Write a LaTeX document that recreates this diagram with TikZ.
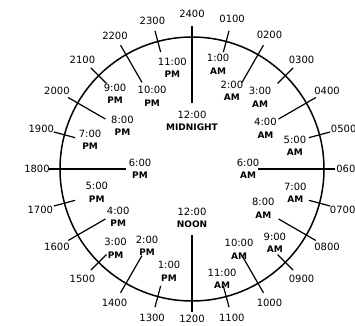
\documentclass[tikz,border=0pt]{standalone}
\usepackage{fontspec}
\setmainfont{DejaVu Sans}
\usetikzlibrary{calc}
\newcommand{\merid}[1]{{\fontsize{9}{12.5}\selectfont\bfseries #1}}

\begin{document}
\begin{tikzpicture}[x=1pt,y=1pt,every node/.style={font=\fontsize{10}{12.5}\selectfont,inner sep=1pt},
  civtime/.style={align=center}]
  \useasboundingbox (-192,-156) rectangle (163,169);
  \clip (-192,-156) rectangle (163,169);
  \draw[line width=1.5pt] (0,0) coordinate (ctr) circle (132);
  % hour lines: long for the quarters, medium for even hours, short ticks for odd ones
  \foreach \h [evaluate=\h as \ang using {90-15*\h},
               evaluate=\h as \rin using {ifthenelse(mod(\h,6)==0,66,ifthenelse(mod(\h,2)==0,100,121))}] in {0,...,23}
    \draw[line width=1.2pt] (\ang:\rin) -- (\ang:143);
  % 24-hour labels outside
  \foreach \h/\lab/\rad in {0/2400/155,1/0100/155,2/0200/155,3/0300/155,4/0400/156,5/0500/157,6/0600/157,7/0700/156,
                       8/0800/156,9/0900/155,10/1000/155,11/1100/154,12/1200/150,13/1300/154,14/1400/155,15/1500/155,
                       16/1600/156,17/1700/157,18/1800/155,19/1900/156,20/2000/156,21/2100/155,22/2200/154,23/2300/153}
    \node (m\lab) at (90-15*\h:\rad) {\lab};
  % 12-hour labels inside
  \foreach \nm/\ang/\rad/\txt in {
      mid/90/48/{12:00\\\merid{MIDNIGHT}}, amone/76/108/{1:00\\\merid{AM}}, amtwo/63/88/{2:00\\\merid{AM}},
      amthree/46.6/99/{3:00\\\merid{AM}}, amfour/29/84/{4:00\\\merid{AM}}, amfive/12.6/105.5/{5:00\\\merid{AM}},
      amsix/0/56/{6:00\\\merid{AM}}, amseven/-13/106/{7:00\\\merid{AM}}, ameight/-29/81.5/{8:00\\\merid{AM}},
      amnine/-41.7/111/{9:00\\\merid{AM}}, amten/-59.6/93/{10:00\\\merid{AM}}, ameleven/-74.7/114/{11:00\\\merid{AM}},
      noon/-90/49/{12:00\\\merid{NOON}}, pmone/257.3/104.6/{1:00\\\merid{PM}}, pmtwo/239.7/89/{2:00\\\merid{PM}},
      pmthree/226/110/{3:00\\\merid{PM}}, pmfour/213/88/{4:00\\\merid{PM}}, pmfive/193.6/98/{5:00\\\merid{PM}},
      pmsix/180/52/{6:00\\\merid{PM}}, pmseven/164/106/{7:00\\\merid{PM}}, pmeight/148/82/{8:00\\\merid{PM}},
      pmnine/135.7/107.5/{9:00\\\merid{PM}}, pmten/118.7/83/{10:00\\\merid{PM}}, pmeleven/101/103/{11:00\\\merid{PM}}}
    \node[civtime] (\nm) at (\ang:\rad) {\txt};
\end{tikzpicture}
\end{document}
